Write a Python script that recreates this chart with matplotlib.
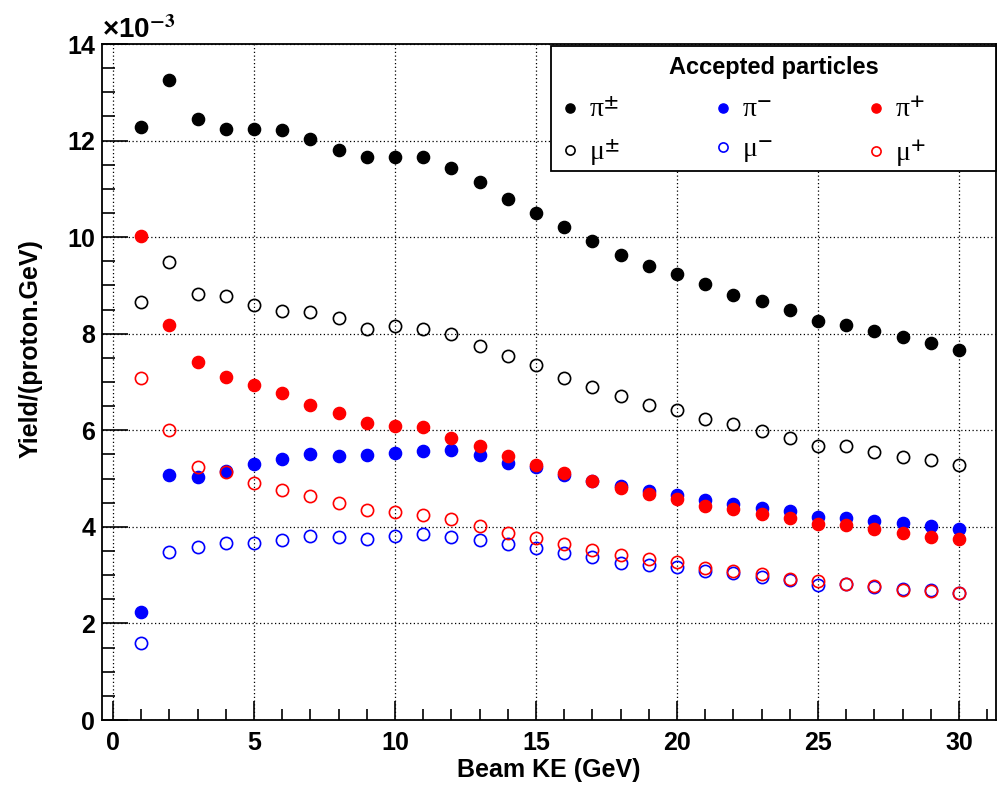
import matplotlib.pyplot as plt
from matplotlib.patches import Rectangle
from matplotlib.ticker import MultipleLocator

plt.rcParams['font.family'] = ['Liberation Sans', 'DejaVu Sans']
plt.rcParams['font.weight'] = 'bold'
plt.rcParams['mathtext.fontset'] = 'stix'

# yields in units of 1e-3 per (proton.GeV)
beam_ke = list(range(1, 31))
pi_all = [12.28, 13.26, 12.45, 12.24, 12.24, 12.22, 12.04, 11.80, 11.65, 11.65,
          11.65, 11.44, 11.15, 10.79, 10.50, 10.21, 9.91, 9.64, 9.41, 9.23,
          9.02, 8.81, 8.68, 8.50, 8.27, 8.19, 8.05, 7.94, 7.80, 7.67]
mu_all = [8.65, 9.49, 8.83, 8.79, 8.59, 8.47, 8.45, 8.32, 8.09, 8.16,
          8.09, 7.99, 7.75, 7.54, 7.36, 7.09, 6.89, 6.71, 6.53, 6.42,
          6.24, 6.13, 5.98, 5.85, 5.67, 5.67, 5.56, 5.44, 5.38, 5.28]
pi_minus = [2.24, 5.07, 5.04, 5.16, 5.30, 5.41, 5.51, 5.46, 5.49, 5.53,
            5.57, 5.60, 5.48, 5.32, 5.23, 5.07, 4.95, 4.85, 4.75, 4.67,
            4.56, 4.47, 4.40, 4.33, 4.20, 4.18, 4.13, 4.07, 4.02, 3.95]
pi_plus = [10.03, 8.18, 7.41, 7.10, 6.94, 6.78, 6.53, 6.35, 6.16, 6.09,
           6.06, 5.85, 5.67, 5.47, 5.29, 5.12, 4.94, 4.81, 4.68, 4.57,
           4.44, 4.37, 4.27, 4.18, 4.05, 4.03, 3.95, 3.87, 3.80, 3.74]
mu_minus = [1.59, 3.48, 3.59, 3.66, 3.66, 3.72, 3.82, 3.80, 3.74, 3.82,
            3.85, 3.80, 3.72, 3.64, 3.57, 3.45, 3.38, 3.26, 3.20, 3.16,
            3.08, 3.04, 2.96, 2.90, 2.80, 2.81, 2.75, 2.72, 2.69, 2.62]
mu_plus = [7.08, 6.00, 5.25, 5.13, 4.91, 4.76, 4.63, 4.50, 4.35, 4.31,
           4.24, 4.16, 4.01, 3.87, 3.77, 3.64, 3.52, 3.42, 3.33, 3.27,
           3.15, 3.08, 3.02, 2.93, 2.87, 2.82, 2.77, 2.70, 2.68, 2.62]

fig = plt.figure(figsize=(9.98, 7.90), dpi=100)
ax = fig.add_axes([0.1022, 0.0886, 0.8958, 0.8557])

ms = 8.8
h1, = ax.plot(beam_ke, pi_all, 'o', color='black', ms=ms, label=r'π$^{\pm}$')
h2, = ax.plot(beam_ke, mu_all, 'o', color='black', ms=ms, mfc='none', mew=1.2, label=r'μ$^{\pm}$')
h3, = ax.plot(beam_ke, pi_minus, 'o', color='blue', ms=ms, label=r'π$^{-}$')
h5, = ax.plot(beam_ke, pi_plus, 'o', color='red', ms=ms, label=r'π$^{+}$')
h4, = ax.plot(beam_ke, mu_minus, 'o', color='blue', ms=ms, mfc='none', mew=1.2, label=r'μ$^{-}$')
h6, = ax.plot(beam_ke, mu_plus, 'o', color='red', ms=ms, mfc='none', mew=1.2, label=r'μ$^{+}$')

ax.set_xlim(-0.39, 31.31)
ax.set_ylim(0, 14)
ax.xaxis.set_major_locator(MultipleLocator(5))
ax.xaxis.set_minor_locator(MultipleLocator(1))
ax.yaxis.set_major_locator(MultipleLocator(2))
ax.yaxis.set_minor_locator(MultipleLocator(0.5))
ax.tick_params(which='both', direction='in', top=False, right=False, width=1.2, labelsize=18)
ax.tick_params(axis='y', which='major', length=19, pad=5)
ax.tick_params(axis='y', which='minor', length=9.5)
ax.tick_params(axis='x', which='major', length=14, pad=8)
ax.tick_params(axis='x', which='minor', length=8)
ax.grid(True, which='major', color='black', linestyle=(0, (1, 2)), linewidth=0.9)
for s in ax.spines.values():
    s.set_linewidth(1.3)

ax.set_xlabel('Beam KE (GeV)', fontsize=18, fontweight='bold', labelpad=2)
ax.text(-0.08, 0.549, 'Yield/(proton.GeV)', transform=ax.transAxes, rotation=90,
        ha='center', va='center', fontsize=18, fontweight='bold')
ax.text(0.0, 1.0, '×10$^{-3}$', transform=ax.transAxes, ha='left', va='bottom',
        fontsize=20, fontweight='bold')

# legend box (ROOT style: wide frame, title centred)
box = Rectangle((0.502, 0.812), 0.498, 0.185, transform=ax.transAxes,
                facecolor='white', edgecolor='black', linewidth=1.3,
                zorder=4.5, clip_on=False)
ax.add_patch(box)
ax.text(0.751, 0.965, 'Accepted particles', transform=ax.transAxes, ha='center',
        va='center', fontsize=17, fontweight='bold', zorder=6)
leg = ax.legend(handles=[h1, h2, h3, h4, h5, h6], ncol=3, loc='upper left',
                bbox_to_anchor=(0.500, 0.935), borderaxespad=0,
                prop={'family': 'Liberation Serif', 'size': 20, 'weight': 'normal'},
                markerscale=0.75, handlelength=0.8, handletextpad=0.3,
                columnspacing=3.3, labelspacing=0.5, frameon=False,
                borderpad=0.35)
leg.set_zorder(6)

fig.savefig('out.png', dpi=100)
